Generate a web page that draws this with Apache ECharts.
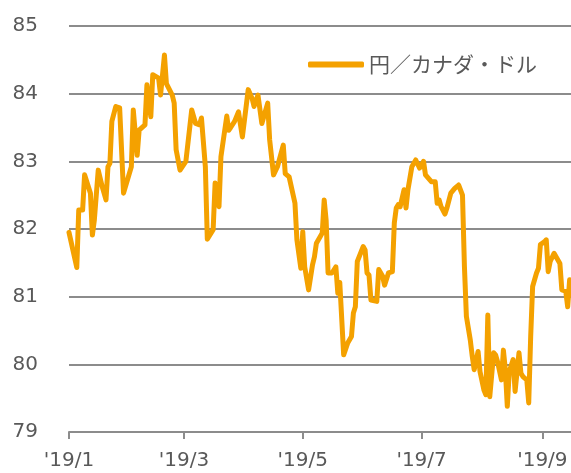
<!DOCTYPE html>
<html>
<head>
<meta charset="utf-8">
<script src="https://cdn.jsdelivr.net/npm/echarts@6/dist/echarts.min.js"></script>
<style>
  html, body { margin: 0; padding: 0; background: #fff; }
  #chart { width: 571px; height: 473px; }
</style>
</head>
<body>
<div id="chart"></div>
<script>
// 円／カナダ・ドル 2019年 (値は図から読み取り)
var seriesName = '円／カナダ・ドル';

var dates = [
  '2019-01-01','2019-01-05','2019-01-06','2019-01-08','2019-01-09','2019-01-12','2019-01-13','2019-01-14',
  '2019-01-16','2019-01-18','2019-01-20','2019-01-21','2019-01-22','2019-01-23','2019-01-25','2019-01-27',
  '2019-01-29','2019-02-02','2019-02-03','2019-02-05','2019-02-06','2019-02-09','2019-02-10','2019-02-11',
  '2019-02-12','2019-02-13','2019-02-16','2019-02-17','2019-02-19','2019-02-20','2019-02-23','2019-02-24',
  '2019-02-25','2019-02-27','2019-03-02','2019-03-05','2019-03-07','2019-03-09','2019-03-10','2019-03-12',
  '2019-03-13','2019-03-16','2019-03-17','2019-03-18','2019-03-19','2019-03-20','2019-03-23','2019-03-24',
  '2019-03-25','2019-03-27','2019-03-29','2019-03-31','2019-04-01','2019-04-03','2019-04-05','2019-04-06',
  '2019-04-08','2019-04-10','2019-04-13','2019-04-14','2019-04-16','2019-04-18','2019-04-19','2019-04-21',
  '2019-04-22','2019-04-24','2019-04-27','2019-04-28','2019-04-30','2019-05-01','2019-05-02','2019-05-04',
  '2019-05-06','2019-05-07','2019-05-08','2019-05-10','2019-05-11','2019-05-12','2019-05-13','2019-05-14',
  '2019-05-16','2019-05-18','2019-05-19','2019-05-20','2019-05-21','2019-05-22','2019-05-24','2019-05-26',
  '2019-05-27','2019-05-28','2019-05-29','2019-06-01','2019-06-02','2019-06-03','2019-06-04','2019-06-05',
  '2019-06-08','2019-06-09','2019-06-11','2019-06-12','2019-06-14','2019-06-16','2019-06-17','2019-06-18',
  '2019-06-19','2019-06-20','2019-06-22','2019-06-23','2019-06-24','2019-06-26','2019-06-28','2019-06-30',
  '2019-07-02','2019-07-03','2019-07-06','2019-07-08','2019-07-09','2019-07-10','2019-07-11','2019-07-13',
  '2019-07-14','2019-07-15','2019-07-16','2019-07-18','2019-07-20','2019-07-22','2019-07-23','2019-07-24',
  '2019-07-26','2019-07-27','2019-07-28','2019-07-30','2019-07-31','2019-08-02','2019-08-03','2019-08-04',
  '2019-08-05','2019-08-07','2019-08-08','2019-08-09','2019-08-11','2019-08-12','2019-08-13','2019-08-14',
  '2019-08-15','2019-08-17','2019-08-18','2019-08-20','2019-08-21','2019-08-22','2019-08-24','2019-08-25',
  '2019-08-26','2019-08-27','2019-08-29','2019-08-30','2019-08-31','2019-09-01','2019-09-02','2019-09-03',
  '2019-09-04','2019-09-05','2019-09-07','2019-09-08','2019-09-10','2019-09-11','2019-09-13','2019-09-14',
  '2019-09-15'
];

var rates = [
  81.95, 81.43, 82.28, 82.28, 82.80, 82.53, 81.91, 82.13,
  82.87, 82.63, 82.43, 82.92, 82.97, 83.59, 83.81, 83.79,
  82.53, 82.92, 83.76, 83.09, 83.46, 83.54, 84.13, 84.13,
  83.66, 84.28, 84.23, 83.98, 84.57, 84.15, 83.98, 83.86,
  83.17, 82.87, 83.00, 83.76, 83.56, 83.54, 83.64, 82.92,
  81.85, 81.99, 82.68, 82.68, 82.33, 83.07, 83.67, 83.46,
  83.50, 83.59, 83.73, 83.36, 83.34, 84.06, 83.93, 83.81,
  83.98, 83.56, 83.86, 83.32, 82.80, 82.92, 82.93, 83.24,
  82.82, 82.77, 82.38, 81.84, 81.42, 81.96, 81.44, 81.10,
  81.47, 81.59, 81.79, 81.89, 81.94, 82.43, 82.13, 81.35,
  81.35, 81.44, 81.05, 81.21, 81.20, 80.14, 80.31, 80.41,
  80.76, 80.85, 81.52, 81.74, 81.69, 81.35, 81.32, 80.95,
  80.93, 81.40, 81.30, 81.17, 81.35, 81.37, 82.09, 82.31,
  82.36, 82.33, 82.58, 82.31, 82.58, 82.92, 83.02, 82.90,
  83.00, 82.80, 82.70, 82.70, 82.38, 82.43, 82.33, 82.22,
  82.31, 82.31, 82.53, 82.60, 82.65, 82.50, 81.44, 80.71,
  80.36, 80.12, 79.92, 80.19, 79.89, 79.62, 79.55, 80.73,
  79.52, 80.17, 80.14, 80.04, 79.77, 80.21, 79.92, 79.38,
  79.89, 80.07, 79.60, 80.17, 79.87, 79.82, 79.77, 79.43,
  80.41, 81.15, 81.35, 81.42, 81.77, 81.77, 81.81, 81.84,
  81.37, 81.52, 81.64, 81.62, 81.49, 81.10, 81.08, 80.85,
  81.25
];

var tickDates = ['2019-01-01', '2019-03-01', '2019-05-01', '2019-07-01', '2019-09-01'];

function toTime(s) {
  var p = s.split('-');
  return new Date(+p[0], +p[1] - 1, +p[2]).getTime();
}

var chart = echarts.init(document.getElementById('chart'));

var points = dates.map(function (d, i) { return [toTime(d), rates[i]]; });
var ticks = tickDates.map(toTime);
var xMin = toTime('2019-01-01');
var xMax = xMin + 257.7 * 86400000;

var labelColor = '#595959';
var gridColor = '#8c8c8c';

var option = {
  animation: false,
  textStyle: { fontFamily: 'DejaVu Sans' },
  grid: { left: 69, right: 0, top: 26, bottom: 41, containLabel: false },
  legend: {
    data: [seriesName],
    left: 303,
    top: 49,
    icon: 'roundRect',
    itemWidth: 56,
    itemHeight: 6,
    itemGap: 6,
    textStyle: { color: labelColor, fontSize: 21, fontFamily: 'Noto Sans CJK JP' }
  },
  xAxis: {
    type: 'value',
    min: xMin,
    max: xMax,
    axisLine: { show: true, lineStyle: { color: gridColor, width: 2 } },
    axisTick: { show: true, length: 7, customValues: ticks, lineStyle: { color: gridColor, width: 2 } },
    axisLabel: {
      customValues: ticks,
      color: labelColor,
      fontSize: 20,
      margin: 19,
      hideOverlap: false,
      formatter: function (v) {
        var d = new Date(v);
        return "'" + String(d.getFullYear()).slice(2) + '/' + (d.getMonth() + 1);
      }
    },
    splitLine: { show: false }
  },
  yAxis: {
    type: 'value',
    min: 79,
    max: 85,
    interval: 1,
    axisLine: { show: false },
    axisTick: { show: false },
    axisLabel: { color: labelColor, fontSize: 20, margin: 31 },
    splitLine: { show: true, lineStyle: { color: gridColor, width: 2 } }
  },
  series: [{
    name: seriesName,
    type: 'line',
    data: points,
    showSymbol: false,
    symbol: 'none',
    color: '#f4a100',
    lineStyle: { color: '#f4a100', width: 5, cap: 'round', join: 'round' }
  }]
};

chart.setOption(option);
</script>
</body>
</html>
